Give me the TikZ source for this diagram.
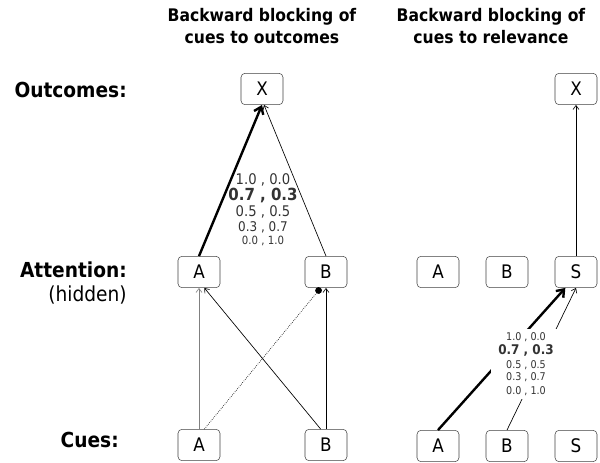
\documentclass[tikz,border=0pt]{standalone}
\usepackage{fontspec}
\setmainfont{DejaVu Sans Condensed}
\usetikzlibrary{arrows.meta}

\begin{document}
\begin{tikzpicture}[x=0.75pt, y=-0.75pt,
     box/.style = {rectangle, draw=black!75, rounded corners=3pt,% units of all layers
                   minimum width=31.5pt, minimum height=23.5pt, inner sep=0pt,
                   font=\fontsize{14}{16}\selectfont},
   layer/.style = {anchor=east, inner sep=0pt, font=\bfseries\fontsize{15.5}{17}\selectfont},
    head/.style = {align=center, font=\bfseries\fontsize{13}{16.5}\selectfont},
    weak/.style = {-{Straight Barb[length=3pt,width=4.5pt]}, line width=0.5pt},
  strong/.style = {-{Straight Barb[length=5pt,width=7.5pt]}, line width=1.8pt},
                        ]
\useasboundingbox (0,0) rectangle (600,463);
% row names
\node (L1) [layer] at (127,90) {Outcomes:};
\node (L2) [layer] at (127,270) {Attention:};
\node (L3) [layer, font=\fontsize{15.5}{17}\selectfont] at (127,295) {(hidden)};
\node (L4) [layer] at (119,440) {Cues:};
% left panel
\node (H1) [head] at (262,26) {Backward blocking of\\cues to outcomes};
\node (oX) [box] at (262,89) {X};
\foreach \n/\x in {A/199,B/326}{% attention and cue units
    \node (a\n) [box] at (\x,272) {\n};
    \node (c\n) [box] at (\x,445) {\n};
}
\draw[strong] (aA.north) -- (oX.south);
\draw[weak] (aB.north) -- ([xshift=1.5pt]oX.south);
\draw[weak, draw=black!50] (cA.north) -- (aA.south);
\draw[weak] ([xshift=-4pt]cB.north) -- ([xshift=4pt]aA.south);
\draw[-{Circle[length=5pt]}, line width=0.5pt, densely dotted] ([xshift=4pt]cA.north) -- ([xshift=-4pt]aB.south);
\draw[weak] (cB.north) -- (aB.south);
\node (W1) [align=center, text=black!80, inner sep=0pt] at (263,210)
   {{\fontsize{11}{12}\selectfont 1.0 , 0.0}\\[0pt]
    {\bfseries\fontsize{12.5}{13}\selectfont 0.7 , 0.3}\\[0pt]
    {\fontsize{11}{12}\selectfont 0.5 , 0.5}\\[-1pt]
    {\fontsize{10}{11}\selectfont 0.3 , 0.7}\\[-2pt]
    {\fontsize{8.5}{9}\selectfont 0.0 , 1.0}};
% right panel
\node (H2) [head] at (491,26) {Backward blocking of\\cues to relevance};
\node (rX) [box] at (576,89) {X};
\foreach \n/\x in {A/438,B/507,S/576}{
    \node (ra\n) [box] at (\x,272) {\n};
    \node (rc\n) [box] at (\x,446) {\n};
}
\draw[weak] (raS.north) -- (rX.south);
\draw[strong] (rcA.north) -- ([xshift=-8pt]raS.south);
\draw[weak] (rcB.north) -- (raS.south);
\node (W2) [align=center, fill=white, text=black!80, minimum width=52pt, minimum height=53pt, inner sep=0pt] at (526,364)
   {{\fontsize{8}{8}\selectfont 1.0 , 0.0}\\[-1pt]
    {\bfseries\fontsize{10}{11}\selectfont 0.7 , 0.3}\\[-2pt]
    {\fontsize{8}{8}\selectfont 0.5 , 0.5}\\[-2.5pt]
    {\fontsize{8}{8}\selectfont 0.3 , 0.7}\\[-1.5pt]
    {\fontsize{8}{8}\selectfont 0.0 , 1.0}};
\end{tikzpicture}
\end{document}
